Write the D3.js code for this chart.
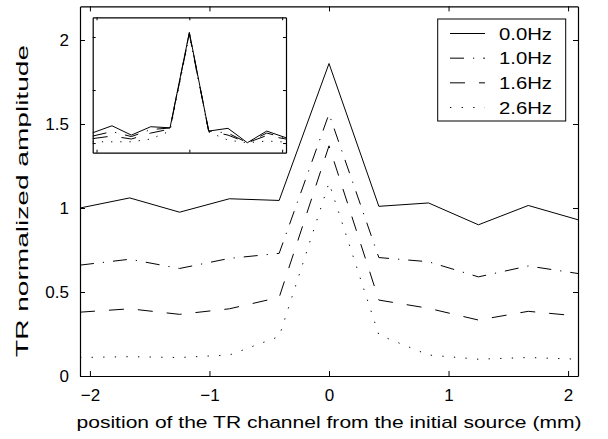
<!DOCTYPE html>
<html><head><meta charset="utf-8">
<script src="https://d3js.org/d3.v7.min.js"></script>
<style>body{margin:0;background:#fff}svg{display:block}</style>
</head><body>
<script>
// ---- data ----
const positions = [-2.083, -1.667, -1.25, -0.833, -0.417, 0, 0.417, 0.833, 1.25, 1.667, 2.083];
const amp00 = [1.00, 1.06, 0.975, 1.055, 1.045, 1.86, 1.01, 1.03, 0.90, 1.015, 0.93];
const amp10 = [0.66, 0.695, 0.64, 0.70, 0.73, 1.56, 0.705, 0.68, 0.59, 0.655, 0.61];
const amp16 = [0.38, 0.40, 0.367, 0.40, 0.468, 1.37, 0.452, 0.403, 0.333, 0.385, 0.357];
const amp26 = [0.11, 0.115, 0.11, 0.125, 0.235, 1.15, 0.245, 0.125, 0.10, 0.11, 0.10];
const inset00 = [1.097, 1.163, 1.075, 1.154, 1.144, 2.044, 1.113, 1.139, 1.003, 1.113, 1.05];
const inset10 = [1.066, 1.108, 1.061, 1.127, 1.142, 2.038, 1.113, 1.094, 1.003, 1.094, 1.047];
const inset16 = [1.042, 1.066, 1.038, 1.094, 1.132, 2.028, 1.113, 1.075, 1.003, 1.071, 1.038];
const inset26 = [1.012, 1.012, 1.012, 1.038, 1.113, 2.019, 1.104, 1.028, 1.003, 1.019, 1.009];
const legendLabels = ["0.0Hz", "1.0Hz", "1.6Hz", "2.6Hz"];
const xTickValues = [-2, -1, 0, 1, 2];
const xTickLabels = ["\u22122", "\u22121", "0", "1", "2"];
const yTickValues = [0, 0.5, 1, 1.5, 2];
const yTickLabels = ["0", "0.5", "1", "1.5", "2"];
const insetXTicks = [-2, 0, 2];
const insetYTicks = [1, 1.5, 2];
const xLabel = "position of the TR channel from the initial source (mm)";
const yLabel = "TR normalized amplitude";

// ---- styles ----
const dashes = [null, "14,9,1.2,9", "15,14", "1.3,10.3"];
const font = "'Liberation Sans', Arial, Helvetica, sans-serif";

const W = 608, H = 439;
const svg = d3.select("body").append("svg").attr("width", W).attr("height", H);

const x = d3.scaleLinear().domain([-2.083, 2.083]).range([80, 578]);
const y = d3.scaleLinear().domain([0, 2.2]).range([376, 6.4]);

svg.append("defs").append("clipPath").attr("id", "clip")
  .append("rect").attr("x", 80).attr("y", 6.4).attr("width", 498).attr("height", 369.6);

const mainSeries = [amp00, amp10, amp16, amp26];
const line = d3.line().x((d, i) => x(positions[i])).y(d => y(d));
const g = svg.append("g").attr("clip-path", "url(#clip)");
mainSeries.forEach((s, k) => {
  g.append("path").datum(s).attr("d", line)
    .attr("fill", "none").attr("stroke", "#000").attr("stroke-width", 1)
    .attr("stroke-dasharray", dashes[k]);
});

// axes (MATLAB box style, inward ticks)
const tl = 5;
const axB = svg.append("g").attr("transform", "translate(0,376)")
  .call(d3.axisBottom(x).tickValues(xTickValues).tickSizeInner(-tl).tickSizeOuter(0).tickPadding(13)
    .tickFormat((d, i) => xTickLabels[i]));
const axT = svg.append("g").attr("transform", "translate(0,6.4)")
  .call(d3.axisTop(x).tickValues(xTickValues).tickSizeInner(-tl).tickSizeOuter(0).tickFormat(""));
const axL = svg.append("g").attr("transform", "translate(80,0)")
  .call(d3.axisLeft(y).tickValues(yTickValues).tickSizeInner(-tl).tickSizeOuter(0).tickPadding(11)
    .tickFormat((d, i) => yTickLabels[i]));
const axR = svg.append("g").attr("transform", "translate(578,0)")
  .call(d3.axisRight(y).tickValues(yTickValues).tickSizeInner(-tl).tickSizeOuter(0).tickFormat(""));
[axB, axT, axL, axR].forEach(a => {
  a.select(".domain").attr("stroke", "#000").attr("stroke-width", 1.2);
  a.selectAll(".tick line").attr("stroke", "#000");
  a.selectAll("text").attr("font-family", font).attr("font-size", 17).attr("fill", "#000");
});

// axis labels
svg.append("text").attr("x", 329).attr("y", 428).attr("text-anchor", "middle")
  .attr("font-family", font).attr("font-size", 17)
  .attr("textLength", 505).attr("lengthAdjust", "spacingAndGlyphs").text(xLabel);
svg.append("text").attr("transform", "translate(28,201) rotate(-90)").attr("text-anchor", "middle")
  .attr("font-family", font).attr("font-size", 17)
  .attr("textLength", 312).attr("lengthAdjust", "spacingAndGlyphs").text(yLabel);

// legend
const lg = svg.append("g");
lg.append("rect").attr("x", 437.7).attr("y", 19).attr("width", 128).attr("height", 102)
  .attr("fill", "#fff").attr("stroke", "#000").attr("stroke-width", 1);
const legendY = d3.scalePoint().domain(legendLabels).range([33.5, 107.5]);
legendLabels.forEach((lab, k) => {
  const yy = legendY(lab);
  lg.append("line").attr("x1", 450).attr("x2", 485).attr("y1", yy).attr("y2", yy)
    .attr("stroke", "#000").attr("stroke-width", 1).attr("stroke-dasharray", dashes[k]);
  lg.append("text").attr("x", 499).attr("y", yy + 6).attr("font-family", font).attr("font-size", 17)
    .attr("textLength", 53).attr("lengthAdjust", "spacingAndGlyphs").text(lab);
});

// inset
const ix = d3.scaleLinear().domain([-2.083, 2.083]).range([92.7, 286]);
const iy = d3.scaleLinear().domain([0.909, 2.186]).range([152.7, 17.3]);
const ig = svg.append("g");
ig.append("rect").attr("x", 92.7).attr("y", 17.3).attr("width", 193.3).attr("height", 135.4)
  .attr("fill", "#fff");
const iline = d3.line().x((d, i) => ix(positions[i])).y(d => iy(d));
[inset00, inset10, inset16, inset26].forEach((s, k) => {
  ig.append("path").datum(s).attr("d", iline)
    .attr("fill", "none").attr("stroke", "#000").attr("stroke-width", 1)
    .attr("stroke-dasharray", dashes[k] ? (k === 3 ? "1.2,8" : dashes[k]) : null);
});
const itl = 3;
const iB = ig.append("g").attr("transform", "translate(0,152.7)")
  .call(d3.axisBottom(ix).tickValues(insetXTicks).tickSizeInner(-itl).tickSizeOuter(0).tickFormat(""));
const iT = ig.append("g").attr("transform", "translate(0,17.3)")
  .call(d3.axisTop(ix).tickValues(insetXTicks).tickSizeInner(-itl).tickSizeOuter(0).tickFormat(""));
const iL = ig.append("g").attr("transform", "translate(92.7,0)")
  .call(d3.axisLeft(iy).tickValues(insetYTicks).tickSizeInner(-itl).tickSizeOuter(0).tickFormat(""));
const iR = ig.append("g").attr("transform", "translate(286,0)")
  .call(d3.axisRight(iy).tickValues(insetYTicks).tickSizeInner(-itl).tickSizeOuter(0).tickFormat(""));
[iB, iT, iL, iR].forEach(a => {
  a.select(".domain").attr("stroke", "#000").attr("stroke-width", 1.2);
  a.selectAll(".tick line").attr("stroke", "#000");
});
</script>
</body></html>
